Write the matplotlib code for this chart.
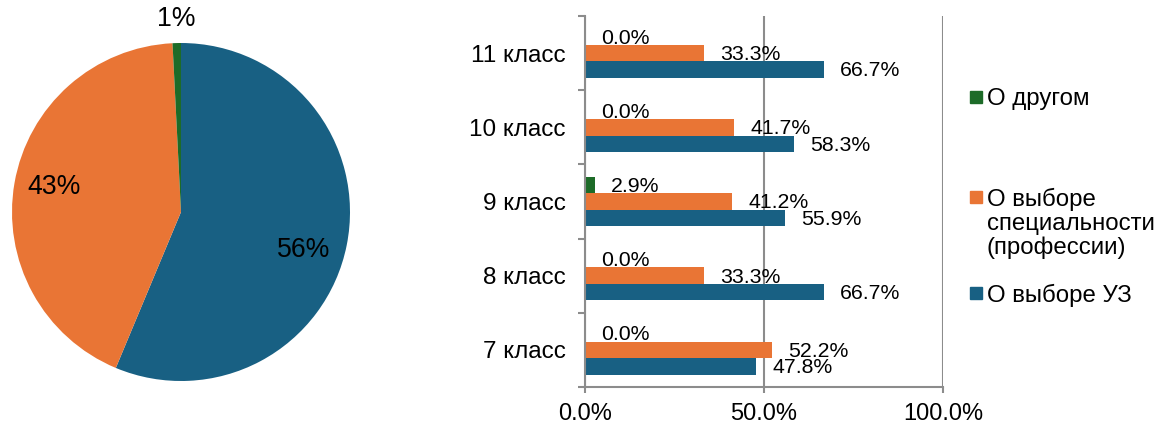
import matplotlib
matplotlib.use("Agg")
import matplotlib.pyplot as plt
import numpy as np
from matplotlib.patches import Rectangle

plt.rcParams['font.family'] = ['Liberation Sans', 'DejaVu Sans']

# ---- data ----
pie_labels = ["О выборе УЗ", "О выборе специальности (профессии)", "О другом"]
pie_values = [56.3, 42.9, 0.8]

classes = ["7 класс", "8 класс", "9 класс", "10 класс", "11 класс"]
vals_uz = [47.8, 66.7, 55.9, 58.3, 66.7]
vals_spec = [52.2, 33.3, 41.2, 41.7, 33.3]
vals_other = [0.0, 0.0, 2.9, 0.0, 0.0]

series_names = ["О другом", "О выборе\nспециальности\n(профессии)", "О выборе УЗ"]

C_BLUE = "#186083"
C_ORANGE = "#E97535"
C_GREEN = "#1D6B28"
C_GRID = "#8C8C8C"

W, H = 1159, 426
fig = plt.figure(figsize=(W / 100, H / 100), dpi=100)

# ---- pie ----
cx, cy, r = 181, 212, 169
axp = fig.add_axes([(cx - r) / W, (H - cy - r) / H, 2 * r / W, 2 * r / H])
wedges, texts, autotexts = axp.pie(
    pie_values, colors=[C_BLUE, C_ORANGE, C_GREEN], startangle=90,
    counterclock=False, autopct=lambda p: f"{p:.0f}%", pctdistance=0.77,
    textprops=dict(fontsize=19.2, color="black"), radius=1.0,
    wedgeprops=dict(linewidth=0))
# label placement (pixel offsets from pie centre, as in the reference)
label_pos_px = [(123, -38), (-127, 25), (-5, 193)]
for t, (dx, dy) in zip(autotexts, label_pos_px):
    t.set_position((dx / r, dy / r))
axp.set_xlim(-1, 1)
axp.set_ylim(-1, 1)
axp.set_aspect('equal')
axp.axis('off')

# ---- bars ----
x0, x1, ytop, ybot = 585, 943, 16, 387
axb = fig.add_axes([x0 / W, 1 - ybot / H, (x1 - x0) / W, (ybot - ytop) / H])
y = np.arange(len(classes))
bh = 0.222
series = [(vals_other, C_GREEN, bh), (vals_spec, C_ORANGE, 0.0), (vals_uz, C_BLUE, -bh)]
for vals, col, off in series:
    bars = axb.barh(y + off, vals, height=bh, color=col, linewidth=0)
    for b, v in zip(bars, vals):
        axb.annotate(f"{v:.1f}%", (b.get_width(), b.get_y() + b.get_height() / 2),
                     xytext=(11.5, -1), textcoords="offset points",
                     ha="left", va="center", fontsize=15.3)

axb.set_xlim(0, 100)
axb.set_ylim(-0.5, len(classes) - 0.5)
axb.set_xticks([0, 50, 100])
axb.set_xticklabels(["0.0%", "50.0%", "100.0%"], fontsize=17)
axb.set_yticks(np.arange(len(classes) + 1) - 0.5)
axb.set_yticklabels([])
axb.set_yticks(y, minor=True)
axb.set_yticklabels(classes, minor=True, fontsize=17.5)
axb.tick_params(axis='y', which='minor', length=0, pad=14)
axb.tick_params(axis='y', which='major', length=5, width=1.5, color=C_GRID)
axb.tick_params(axis='x', length=4, width=1.5, color=C_GRID, pad=7.5)
axb.grid(axis='x', color=C_GRID, linewidth=1.5)
axb.set_axisbelow(True)
for s in ['top', 'right']:
    axb.spines[s].set_visible(False)
for s in ['left', 'bottom']:
    axb.spines[s].set_color(C_GRID)
    axb.spines[s].set_linewidth(1.5)
axb.spines['left'].set_zorder(3)

# ---- legend ----
leg_cols = [C_GREEN, C_ORANGE, C_BLUE]
leg_y = [97, 197, 293]
for name, col, ly in zip(series_names, leg_cols, leg_y):
    fig.patches.append(Rectangle((970 / W, 1 - (ly + 6) / H), 12 / W, 12 / H,
                                 transform=fig.transFigure, color=col))
    fig.text(987 / W, 1 - (ly - 9) / H, name, ha="left", va="top",
             fontsize=17.3, linespacing=1.1)

fig.savefig("out.png", dpi=100)
